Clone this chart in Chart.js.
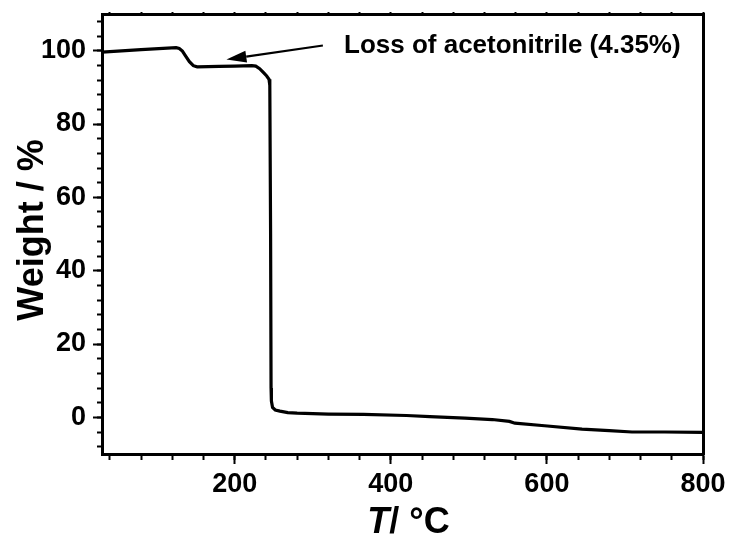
<!DOCTYPE html>
<html>
<head>
<meta charset="utf-8">
<script src="https://cdn.jsdelivr.net/npm/chart.js@4/dist/chart.umd.min.js"></script>
<style>
  html, body { margin: 0; padding: 0; background: #ffffff; }
  canvas { display: block; }
</style>
</head>
<body>
<canvas id="c" width="730" height="537"></canvas>
<script>
// ---- Data ----
const temperature = [30, 80, 125, 129, 133, 137, 142, 147, 152, 180, 200, 222, 227, 232, 237, 241, 244, 245, 246, 246.6, 247, 248.5, 252, 258, 268, 280, 320, 365, 420, 450, 495, 530, 552, 559, 597, 645, 680, 709, 751, 800];
const weight      = [99.6, 100.3, 100.8, 100.6, 99.9, 98.6, 97.0, 95.9, 95.6, 95.7, 95.8, 95.9, 95.8, 95.1, 94.0, 93.1, 92.2, 90.5, 50, 8, 4.5, 2.7, 2.0, 1.7, 1.3, 1.15, 0.9, 0.8, 0.5, 0.2, -0.2, -0.6, -1.1, -1.6, -2.3, -3.2, -3.6, -4.0, -4.0, -4.1];

const xMajorTicks = [200, 400, 600, 800];
const xMinorTicks = [40, 80, 120, 160, 200, 240, 280, 320, 360, 400, 440, 480, 520, 560, 600, 640, 680, 720, 760, 800];
const yMajorTicks = [0, 20, 40, 60, 80, 100];
const yMinorTicks = [-8, -4, 0, 4, 8, 12, 16, 20, 24, 28, 32, 36, 40, 44, 48, 52, 56, 60, 64, 68, 72, 76, 80, 84, 88, 92, 96, 100, 104, 108];

const xLabelText = ['T', '/ °C'];
const yLabelText = 'Weight / %';
const annotationText = 'Loss of acetonitrile (4.35%)';
const arrowFrom = { x: 313, y: 101.4 };
const arrowTo = { x: 189.4, y: 97.6 };

// ---- Styling ----
const FONT = '"Liberation Sans", Arial, Helvetica, sans-serif';
const BLACK = '#000000';

function setTicks(list) {
  return function (scale) { scale.ticks = list.map(v => ({ value: v })); };
}
function fitH(h) {
  return function (s) { s.height = h; s.paddingLeft = 0; s.paddingRight = 0; s.paddingTop = 0; s.paddingBottom = 0; };
}
function fitW(w) {
  return function (s) { s.width = w; s.paddingLeft = 0; s.paddingRight = 0; s.paddingTop = 0; s.paddingBottom = 0; };
}

const decorPlugin = {
  id: 'decor',
  afterDraw(chart) {
    const ctx = chart.ctx;
    const xs = chart.scales.x, ys = chart.scales.y;
    ctx.save();
    ctx.fillStyle = BLACK;
    ctx.strokeStyle = BLACK;

    // x axis title: italic T + "/ °C"
    ctx.textBaseline = 'alphabetic';
    ctx.textAlign = 'left';
    ctx.font = 'italic bold 36px ' + FONT;
    const w1 = ctx.measureText(xLabelText[0]).width;
    ctx.font = 'bold 36px ' + FONT;
    const w2 = ctx.measureText(xLabelText[1]).width;
    const cx = (chart.chartArea.left + chart.chartArea.right) / 2 + 6;
    let sx = cx - (w1 + w2) / 2;
    ctx.font = 'italic bold 36px ' + FONT;
    ctx.fillText(xLabelText[0], sx, 533);
    ctx.font = 'bold 36px ' + FONT;
    ctx.fillText(xLabelText[1], sx + w1, 533);

    // y axis title
    ctx.save();
    ctx.translate(43, 230);
    ctx.rotate(-Math.PI / 2);
    ctx.textAlign = 'center';
    ctx.font = 'bold 36px ' + FONT;
    ctx.fillText(yLabelText, 0, 0);
    ctx.restore();

    // annotation text
    ctx.font = 'bold 26px ' + FONT;
    ctx.textAlign = 'left';
    ctx.fillText(annotationText, 344, 53);

    // arrow
    const x0 = xs.getPixelForValue(arrowFrom.x), y0 = ys.getPixelForValue(arrowFrom.y);
    const x1 = xs.getPixelForValue(arrowTo.x), y1 = ys.getPixelForValue(arrowTo.y);
    const ang = Math.atan2(y1 - y0, x1 - x0);
    const headLen = 20, headHalf = 6;
    const bx = x1 - headLen * Math.cos(ang), by = y1 - headLen * Math.sin(ang);
    ctx.lineWidth = 2.2;
    ctx.beginPath();
    ctx.moveTo(x0, y0);
    ctx.lineTo(bx, by);
    ctx.stroke();
    ctx.beginPath();
    ctx.moveTo(x1, y1);
    ctx.lineTo(bx + headHalf * Math.sin(ang), by - headHalf * Math.cos(ang));
    ctx.lineTo(bx - headHalf * Math.sin(ang), by + headHalf * Math.cos(ang));
    ctx.closePath();
    ctx.fill();
    ctx.restore();
  }
};

const tickFont = { family: FONT, size: 27, weight: 'bold' };

new Chart(document.getElementById('c'), {
  type: 'line',
  data: {
    datasets: [{
      data: temperature.map((t, i) => ({ x: t, y: weight[i] })),
      borderColor: BLACK,
      borderWidth: 3.2,
      pointRadius: 0,
      tension: 0,
      fill: false
    }]
  },
  plugins: [decorPlugin],
  options: {
    responsive: false,
    devicePixelRatio: 1,
    animation: false,
    layout: { padding: { top: 14, right: 27, left: 0, bottom: 0 } },
    plugins: { legend: { display: false }, tooltip: { enabled: false }, title: { display: false } },
    scales: {
      x: {
        type: 'linear', position: 'bottom', min: 30, max: 800, weight: 1,
        afterBuildTicks: setTicks(xMajorTicks),
        afterFit: fitH(83),
        ticks: { font: tickFont, color: BLACK, padding: 4, maxRotation: 0, autoSkip: false },
        grid: { drawOnChartArea: false, tickLength: 10, tickWidth: 2, tickColor: BLACK },
        border: { display: true, color: BLACK, width: 3 }
      },
      xMinor: {
        type: 'linear', axis: 'x', position: 'bottom', min: 30, max: 800, weight: 0,
        afterBuildTicks: setTicks(xMinorTicks),
        afterFit: fitH(0),
        ticks: { display: false, autoSkip: false },
        grid: { drawOnChartArea: false, tickLength: 6, tickWidth: 2, tickColor: BLACK },
        border: { display: false }
      },
      xTop: {
        type: 'linear', axis: 'x', position: 'top', min: 30, max: 800,
        afterBuildTicks: setTicks(xMinorTicks),
        afterFit: fitH(0),
        ticks: { display: false, autoSkip: false },
        grid: { drawOnChartArea: false, tickLength: 2, tickWidth: 2, tickColor: BLACK },
        border: { display: true, color: BLACK, width: 3 }
      },
      y: {
        type: 'linear', position: 'left', min: -10, max: 110, weight: 1,
        afterBuildTicks: setTicks(yMajorTicks),
        afterFit: fitW(102),
        ticks: { font: tickFont, color: BLACK, padding: 7, autoSkip: false },
        grid: { drawOnChartArea: false, tickLength: 9, tickWidth: 2, tickColor: BLACK },
        border: { display: true, color: BLACK, width: 3 }
      },
      yMinor: {
        type: 'linear', axis: 'y', position: 'left', min: -10, max: 110, weight: 0,
        afterBuildTicks: setTicks(yMinorTicks),
        afterFit: fitW(0),
        ticks: { display: false, autoSkip: false },
        grid: { drawOnChartArea: false, tickLength: 5, tickWidth: 2, tickColor: BLACK },
        border: { display: false }
      },
      yRight: {
        type: 'linear', axis: 'y', position: 'right', min: -10, max: 110,
        afterBuildTicks: setTicks(yMinorTicks),
        afterFit: fitW(0),
        ticks: { display: false, autoSkip: false },
        grid: { drawOnChartArea: false, tickLength: 2, tickWidth: 2, tickColor: BLACK },
        border: { display: true, color: BLACK, width: 3 }
      }
    }
  }
});
</script>
</body>
</html>
